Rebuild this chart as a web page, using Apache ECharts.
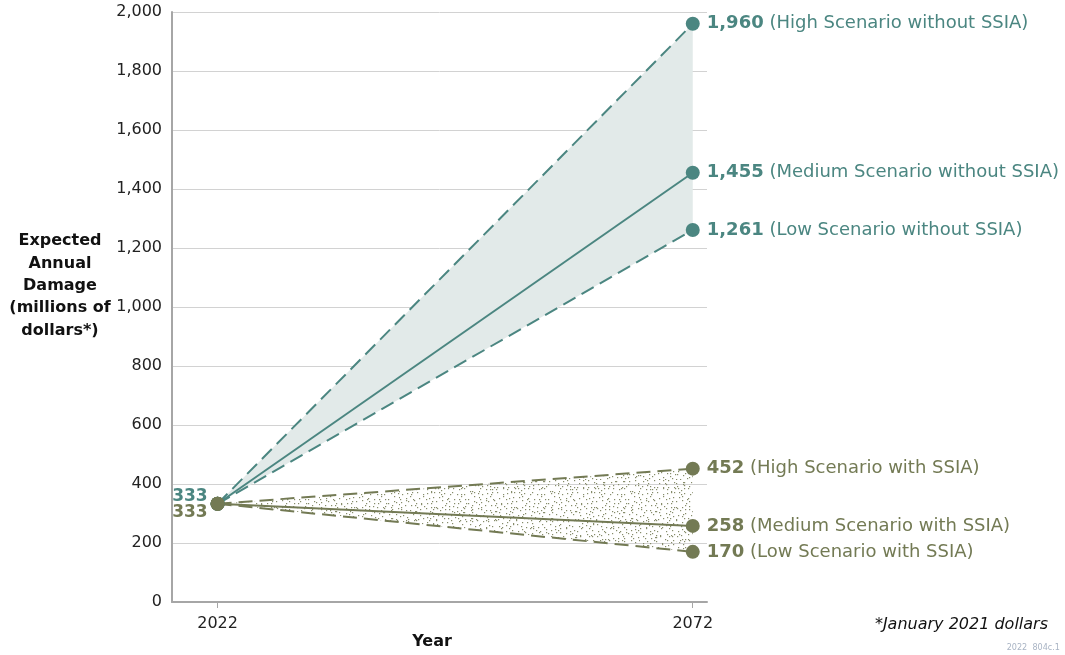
<!DOCTYPE html>
<html>
<head>
<meta charset="utf-8">
<script src="https://cdn.jsdelivr.net/npm/echarts@6/dist/echarts.min.js"></script>
<style>html,body{margin:0;padding:0;background:#fff}#c{width:1065px;height:655px}</style>
</head>
<body>
<div id="c"></div>
<script>
// ---- data ----
var years = [2022, 2072];
var withoutHigh = [333, 1960];
var withoutMed = [333, 1455];
var withoutLow = [333, 1261];
var withHigh = [333, 452];
var withMed = [333, 258];
var withLow = [333, 170];
var nameWithoutHigh = 'High Scenario without SSIA';
var nameWithoutMed = 'Medium Scenario without SSIA';
var nameWithoutLow = 'Low Scenario without SSIA';
var nameWithHigh = 'High Scenario with SSIA';
var nameWithMed = 'Medium Scenario with SSIA';
var nameWithLow = 'Low Scenario with SSIA';

var TEAL = '#4b8681';
var OLIVE = '#737a54';
var FONT = 'DejaVu Sans';

// stipple texture
var pat = document.createElement('canvas');
pat.width = 80; pat.height = 80;
var pctx = pat.getContext('2d');
pctx.fillStyle = '#868c6a';
var seed = 98765;
function nxt(){ seed = (seed * 1103515245 + 12345) % 2147483648; return seed / 2147483648; }
for (var gx = 0; gx < 20; gx++) {
  for (var gy = 0; gy < 20; gy++) {
    pctx.fillRect(Math.floor(gx*4 + nxt()*4), Math.floor(gy*4 + nxt()*4), 1.2, 1.2);
  }
}

function pairs(vals){ return years.map(function(y,i){ return [y, vals[i]]; }); }
function fmtNum(v){ return v.toLocaleString('en-US'); }

function lineSeries(vals, color, dashed, name){
  var data = pairs(vals).map(function(p, i){
    var d = {value: p};
    if (i === years.length - 1) {
      d.label = {
        show: true, position: 'right', distance: 7,
        formatter: '{b|' + fmtNum(p[1]) + '}{n| (' + name + ')}',
        rich: {
          b: {fontFamily: FONT, fontWeight: 'bold', fontSize: 18, color: color},
          n: {fontFamily: FONT, fontSize: 18, color: color}
        }
      };
    }
    return d;
  });
  return {
    type: 'line', data: data, z: 5,
    symbol: 'circle', symbolSize: 14, showSymbol: true,
    itemStyle: {color: color},
    lineStyle: {color: color, width: 2, type: dashed ? [14, 7] : 'solid'},
    emphasis: {disabled: true},
    silent: true, animation: false
  };
}

function bandSeries(lo, hi, fill){
  return {
    type: 'custom', z: 1, silent: true, animation: false,
    data: [[years[0], lo[0]]],
    renderItem: function(params, api){
      var pts = [];
      for (var i = 0; i < years.length; i++) pts.push(api.coord([years[i], hi[i]]));
      for (var j = years.length - 1; j >= 0; j--) pts.push(api.coord([years[j], lo[j]]));
      return {type: 'polygon', shape: {points: pts}, style: {fill: fill}};
    }
  };
}

var chart = echarts.init(document.getElementById('c'), null, {renderer: 'canvas'});
chart.setOption({
  animation: false,
  grid: {left: 172, right: 358, top: 12, bottom: 53, containLabel: false},
  xAxis: {
    type: 'value', min: 2017.2, max: 2073.5,
    axisLine: {show: true, lineStyle: {color: '#a6a6a6', width: 2}},
    axisTick: {show: true, customValues: years, length: 6, lineStyle: {color: '#a6a6a6'}},
    axisLabel: {show: true, customValues: years, margin: 14, fontFamily: FONT, fontSize: 16, color: '#222',
      formatter: function(v){ return String(v); }},
    splitLine: {show: false}
  },
  yAxis: {
    type: 'value', min: 0, max: 2000, interval: 200,
    axisLine: {show: true, lineStyle: {color: '#a6a6a6', width: 2}},
    axisTick: {show: false},
    axisLabel: {margin: 10, fontFamily: FONT, fontSize: 16, color: '#222',
      formatter: function(v){ return fmtNum(v); }},
    splitLine: {show: true, lineStyle: {color: '#d2d2d2', width: 1}}
  },
  series: [
    bandSeries(withoutLow, withoutHigh, '#e2eae9'),
    bandSeries(withLow, withHigh, {image: pat, repeat: 'repeat'}),
    lineSeries(withoutHigh, TEAL, true, nameWithoutHigh),
    lineSeries(withoutMed, TEAL, false, nameWithoutMed),
    lineSeries(withoutLow, TEAL, true, nameWithoutLow),
    lineSeries(withHigh, OLIVE, true, nameWithHigh),
    lineSeries(withMed, OLIVE, false, nameWithMed),
    lineSeries(withLow, OLIVE, true, nameWithLow)
  ]
});

var start = chart.convertToPixel({gridIndex: 0}, [years[0], withoutMed[0]]);
chart.setOption({
  graphic: [
    {type: 'text', id: 'ytitle', z: 10, style: {
      text: 'Expected\nAnnual\nDamage\n(millions of\ndollars*)',
      x: 60, y: 230, textAlign: 'center', textVerticalAlign: 'top', fontFamily: FONT, fontWeight: 'bold',
      fontSize: 16, lineHeight: 22.3, fill: '#111'}},
    {type: 'text', id: 'xtitle', z: 10, style: {text: 'Year', x: 432, y: 642, textAlign: 'center', textVerticalAlign: 'middle',
      fontFamily: FONT, fontWeight: 'bold', fontSize: 16, fill: '#111'}},
    {type: 'text', id: 'note', z: 10, style: {text: '*January 2021 dollars', x: 1048, y: 625, textAlign: 'right', textVerticalAlign: 'middle',
      fontFamily: FONT, fontStyle: 'italic', fontSize: 16, fill: '#111'}},
    {type: 'text', id: 'code', z: 10, style: {text: '2022  804c.1', x: 1060, y: 648, textAlign: 'right', textVerticalAlign: 'middle',
      fontFamily: 'DejaVu Sans Condensed', fontSize: 9, fill: '#a9b4c4'}},
    {type: 'text', id: 's1', z: 10, style: {text: fmtNum(withoutMed[0]), x: start[0] - 10, y: start[1] - 7,
      textAlign: 'right', textVerticalAlign: 'middle', fontFamily: FONT, fontWeight: 'bold', fontSize: 17, fill: TEAL}},
    {type: 'text', id: 's2', z: 10, style: {text: fmtNum(withMed[0]), x: start[0] - 10, y: start[1] + 9,
      textAlign: 'right', textVerticalAlign: 'middle', fontFamily: FONT, fontWeight: 'bold', fontSize: 17, fill: OLIVE}}
  ]
});
</script>
</body>
</html>
